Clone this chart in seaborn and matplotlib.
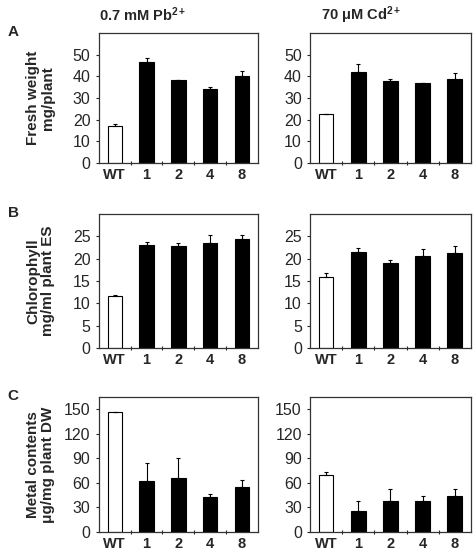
import matplotlib
matplotlib.use("Agg")
import matplotlib.pyplot as plt
import numpy as np
import seaborn as sns

sns.set_theme(style="white")
plt.rcParams["font.family"] = ["Liberation Sans", "DejaVu Sans"]
plt.rcParams["mathtext.fontset"] = "custom"
plt.rcParams["mathtext.rm"] = "Liberation Sans:bold"
plt.rcParams["mathtext.bf"] = "Liberation Sans:bold"
plt.rcParams["mathtext.it"] = "Liberation Sans:bold:italic"

lines = ["WT", "1", "2", "4", "8"]
bar_colors = ["white", "black", "black", "black", "black"]

# A: fresh weight (mg/plant)
fw_pb = [16.9, 46.6, 38.2, 34.3, 40.4]
fw_pb_err = [1.1, 1.9, 0.3, 0.7, 1.9]
fw_cd = [22.5, 42.0, 37.9, 36.9, 38.8]
fw_cd_err = [0.0, 3.9, 1.1, 0.3, 2.8]

# B: chlorophyll (mg/ml plant ES)
chl_pb = [11.6, 23.0, 22.9, 23.5, 24.4]
chl_pb_err = [0.3, 0.8, 0.6, 1.7, 0.8]
chl_cd = [15.8, 21.5, 19.1, 20.5, 21.2]
chl_cd_err = [0.9, 0.8, 0.5, 1.6, 1.5]

# C: metal contents (ug/mg plant DW)
metal_pb = [147, 62, 66, 43, 55]
metal_pb_err = [0, 22, 24, 3, 8]
metal_cd = [70, 26, 38, 38, 44]
metal_cd_err = [3, 12, 14, 6, 8]

fig = plt.figure(figsize=(4.75, 5.54), dpi=100)

rows = [
    (0.706, 0.234, (0, 60), [0, 10, 20, 30, 40, 50], "Fresh weight\nmg/plant",
     (fw_pb, fw_pb_err), (fw_cd, fw_cd_err), "A"),
    (0.372, 0.242, (0, 30), [0, 5, 10, 15, 20, 25], "Chlorophyll\nmg/ml plant ES",
     (chl_pb, chl_pb_err), (chl_cd, chl_cd_err), "B"),
    (0.040, 0.243, (0, 165), [0, 30, 60, 90, 120, 150], "Metal contents\n\u03bcg/mg plant DW",
     (metal_pb, metal_pb_err), (metal_cd, metal_cd_err), "C"),
]
cols = [(0.208, 0.335), (0.653, 0.338)]


def draw_panel(ax, vals, errs, ylim, yticks):
    sns.barplot(x=lines, y=vals, hue=lines, palette=bar_colors, legend=False,
                edgecolor="black", linewidth=0.8, width=0.45, ax=ax)
    pos = np.arange(len(lines))
    ax.errorbar(pos, vals, yerr=[np.zeros(len(errs)), errs], fmt="none",
                ecolor="black", elinewidth=0.8, capsize=1.5, capthick=0.8)
    ax.set_xlim(-0.5, len(lines) - 0.5)
    ax.set_ylim(*ylim)
    ax.set_yticks(yticks)
    ax.set_xlabel("")
    ax.set_ylabel("")
    ax.tick_params(axis="y", labelsize=11.5, length=2, width=0.8, pad=4, left=True)
    ax.tick_params(axis="x", which="major", length=0, pad=4)
    for lab in ax.get_xticklabels():
        lab.set_fontweight("bold")
        lab.set_fontsize(10.5)
    ax.set_xticks(pos[:-1] + 0.5, minor=True)
    ax.tick_params(axis="x", which="minor", length=3, direction="inout",
                   width=0.8, bottom=True)
    for sp in ax.spines.values():
        sp.set_color("#333333")
        sp.set_linewidth(0.9)


for bottom, height, ylim, yticks, ylabel, left_data, right_data, letter in rows:
    for ci, ((x0, w), data) in enumerate(zip(cols, [left_data, right_data])):
        ax = fig.add_axes([x0, bottom, w, height])
        draw_panel(ax, data[0], data[1], ylim, yticks)
        if ci == 0:
            ax.set_ylabel(ylabel, fontsize=11, fontweight="bold", linespacing=1.1)
            ax.yaxis.set_label_coords(-0.275, 0.5)
    fig.text(0.016, bottom + height + 0.002, letter, fontsize=11, fontweight="bold",
             ha="left", va="center")

fig.text(0.301, 0.973, r"0.7 mM Pb$^{2+}$", fontsize=10.5, fontweight="bold",
         ha="center", va="center")
fig.text(0.760, 0.973, "70 \u03bcM Cd$^{2+}$", fontsize=10.5, fontweight="bold",
         ha="center", va="center")

fig.savefig("out.png", dpi=100)
